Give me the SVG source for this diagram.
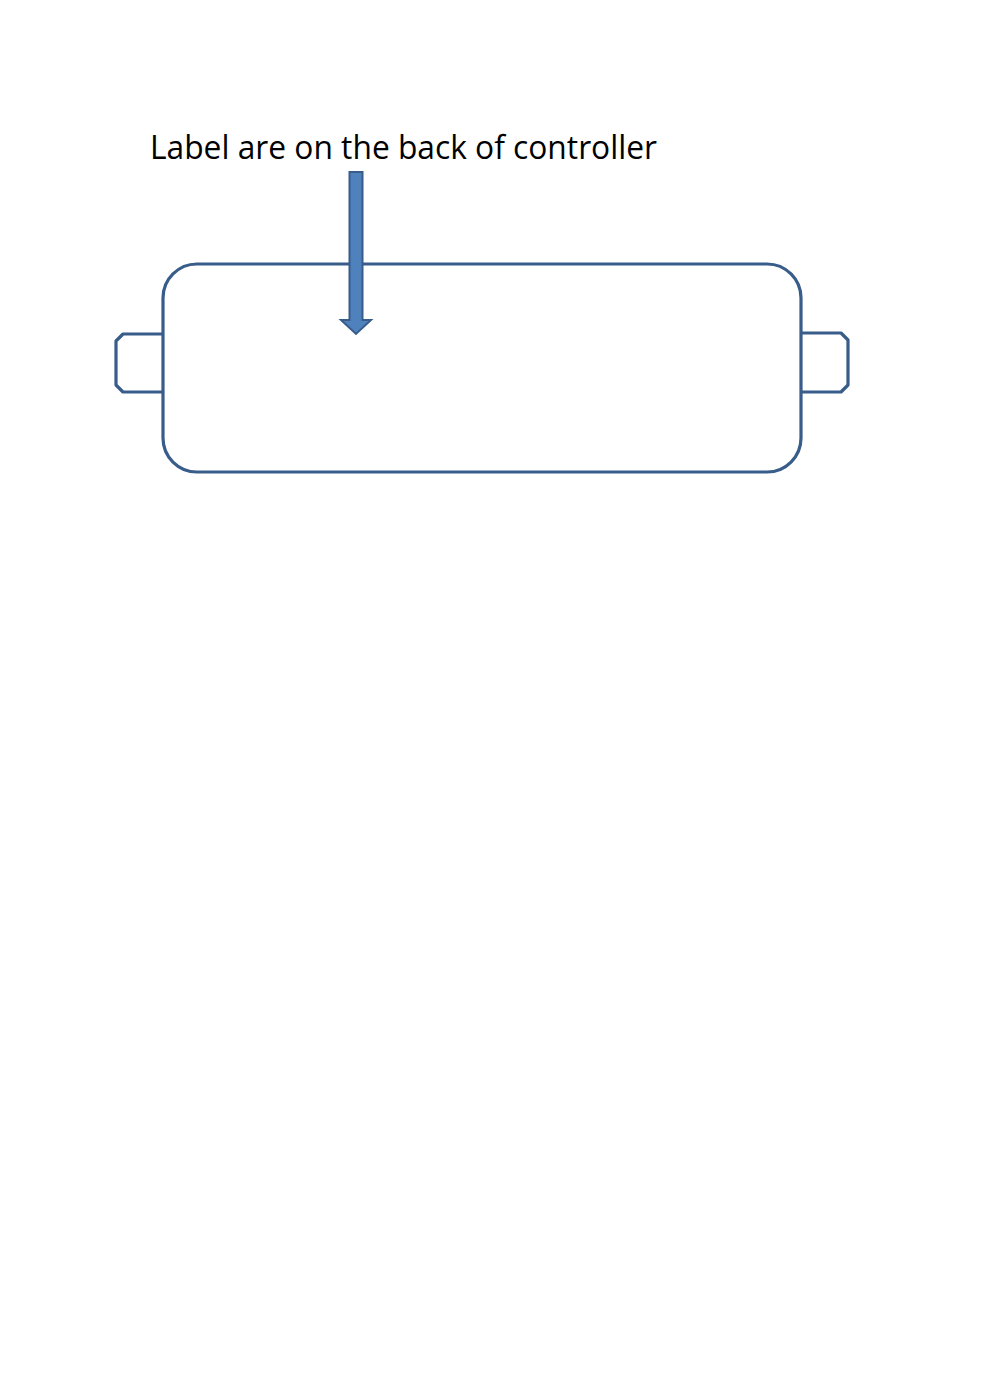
<svg xmlns="http://www.w3.org/2000/svg" width="990" height="1400" viewBox="0 0 990 1400">
<style>
.outline{fill:#ffffff;stroke:#385D8A;stroke-width:3.2;stroke-linejoin:round}
.lbl{font-family:"Open Sans","Liberation Sans",sans-serif;font-size:33px;fill:#000000}
.arrow{fill:#4F81BD;stroke:#385D8A;stroke-width:2;stroke-linejoin:miter}
</style>
<rect width="990" height="1400" fill="#ffffff"/>
<g id="controller">
<path class="outline" d="M163,334 L123,334 L116,341 L116,385 L123,392 L163,392"/>
<path class="outline" d="M801,333 L841,333 L848,340 L848,385 L841,392 L801,392"/>
<rect class="outline" x="163" y="264" width="638" height="208" rx="34" ry="34"/>
</g>
<g id="label">
<text class="lbl" x="150" y="159" textLength="507" lengthAdjust="spacingAndGlyphs">Label are on the back of controller</text>
</g>
<g id="connectors">
<path class="arrow" d="M349.5,172 L362.5,172 L362.5,320 L371,320 L356,334 L341,320 L349.5,320 Z"/>
</g>
</svg>
